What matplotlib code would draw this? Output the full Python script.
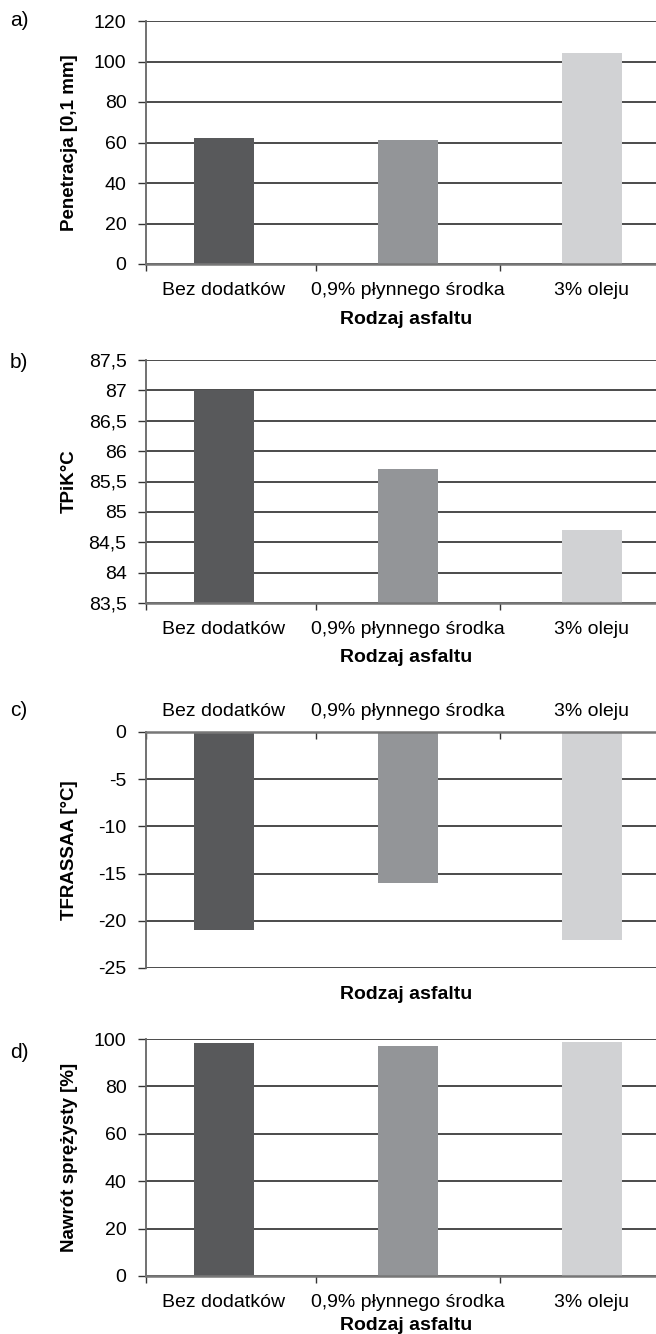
import matplotlib.pyplot as plt

plt.rcParams['font.family'] = ['Liberation Sans', 'DejaVu Sans']
plt.rcParams['axes.unicode_minus'] = False

# data
categories = ["Bez dodatków", "0,9% płynnego środka", "3% oleju"]
bar_colors = ["#58595b", "#939598", "#d1d2d4"]

penetracja = [62, 61, 104]
tpik = [87.0, 85.7, 84.7]
tfrass = [-21, -16, -22]
nawrot = [98.3, 97.0, 98.7]

ticks_a = [0, 20, 40, 60, 80, 100, 120]
ticks_b = [83.5, 84, 84.5, 85, 85.5, 86, 86.5, 87, 87.5]
ticklabels_b = ["83,5", "84", "84,5", "85", "85,5", "86", "86,5", "87", "87,5"]
ticks_c = [0, -5, -10, -15, -20, -25]
ticks_d = [0, 20, 40, 60, 80, 100]

panels = [
    ("a)", "Penetracja [0,1 mm]", penetracja, ticks_a, None),
    ("b)", "TPiK°C", tpik, ticks_b, ticklabels_b),
    ("c)", "TFRASSAA [°C]", tfrass, ticks_c, None),
    ("d)", "Nawrót sprężysty [%]", nawrot, ticks_d, None),
]

W, H = 656, 1334
fig = plt.figure(figsize=(W / 100, H / 100), dpi=100)

# axes boxes in pixels: (top, bottom)
boxes = [(21, 264), (360, 603), (732, 968), (1039, 1276)]
letter_y = [21, 363, 710, 1052]
xlabel_top = [311, 649, 986, 1317]
left_px, right_px = 146, 656

FS = 14
xmin, xmax = -0.424, 2.348
x = [0, 1, 2]

for i, (letter, ylab, vals, yt, ytl) in enumerate(panels):
    top, bot = boxes[i]
    ax = fig.add_axes([left_px / W, 1 - bot / H, (right_px - left_px) / W, (bot - top) / H])
    ax.bar(x, vals, width=0.326, color=bar_colors, zorder=2)
    ax.set_xlim(xmin, xmax)
    ax.set_ylim(min(yt), max(yt))
    ax.set_yticks(yt)
    if ytl is not None:
        ax.set_yticklabels(ytl)
    ax.yaxis.grid(True, color="#1a1a1a", linewidth=1.1)
    ax.set_axisbelow(True)
    for s in ["top", "right"]:
        ax.spines[s].set_visible(False)
    ax.spines["left"].set_color("#666666")
    ax.spines["left"].set_linewidth(1.3)
    ax.spines["bottom"].set_color("#777777")
    ax.spines["bottom"].set_linewidth(1.8)

    ax.set_xticks(x)
    ax.set_xticklabels(categories)
    ax.set_xticks([xmin, 0.5, 1.5], minor=True)
    ax.tick_params(axis="y", which="major", length=6, width=1, color="#333333",
                   labelsize=FS, pad=8)
    ax.tick_params(axis="x", which="major", length=0, labelsize=FS)

    if letter == "c)":
        ax.spines["bottom"].set_visible(False)
        ax.spines["top"].set_visible(True)
        ax.spines["top"].set_color("#777777")
        ax.spines["top"].set_linewidth(1.8)
        ax.xaxis.tick_top()
        ax.tick_params(axis="x", which="major", pad=9)
        ax.tick_params(axis="x", which="minor", direction="in", length=5, width=1,
                       color="#333333")
        ax.xaxis.set_label_position("bottom")
    else:
        ax.tick_params(axis="x", which="major", pad=13)
        ax.tick_params(axis="x", which="minor", direction="out", length=5, width=1,
                       color="#333333")

    ax.set_xlabel("Rodzaj asfaltu", fontsize=14, fontweight="bold", va="top")
    ax.xaxis.set_label_coords(0.51, -(xlabel_top[i] - bot) / (bot - top))
    ax.set_ylabel(ylab, fontsize=13.5, fontweight="bold")
    ax.yaxis.set_label_coords(-(146 - 78) / (right_px - left_px), 0.5)

    fig.text(10 / W, 1 - letter_y[i] / H, letter, fontsize=15, va="center", ha="left")

fig.savefig("out.png", dpi=100)
